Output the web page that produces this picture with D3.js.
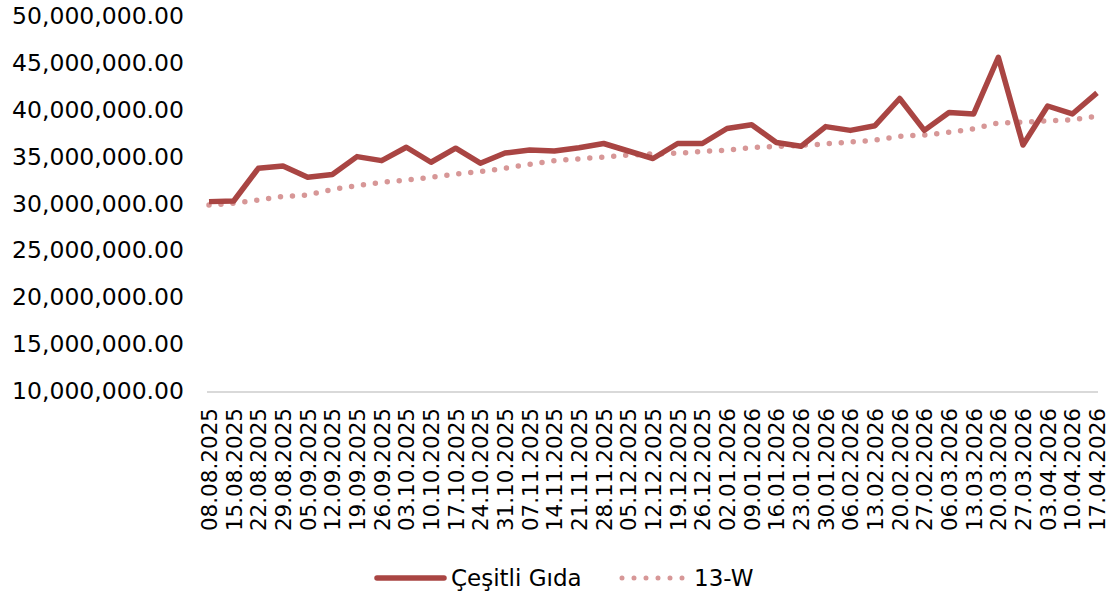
<!DOCTYPE html>
<html>
<head>
<meta charset="utf-8">
<script src="https://cdn.jsdelivr.net/npm/d3@7"></script>
<style>
  body { margin: 0; background: #fff; }
  text { font-family: "DejaVu Sans", sans-serif; fill: #000; }
</style>
</head>
<body>
<div id="chart"></div>
<script>
// Weekly categories
const dates = [
  "08.08.2025", "15.08.2025", "22.08.2025", "29.08.2025", "05.09.2025", "12.09.2025",
  "19.09.2025", "26.09.2025", "03.10.2025", "10.10.2025", "17.10.2025", "24.10.2025",
  "31.10.2025", "07.11.2025", "14.11.2025", "21.11.2025", "28.11.2025", "05.12.2025",
  "12.12.2025", "19.12.2025", "26.12.2025", "02.01.2026", "09.01.2026", "16.01.2026",
  "23.01.2026", "30.01.2026", "06.02.2026", "13.02.2026", "20.02.2026", "27.02.2026",
  "06.03.2026", "13.03.2026", "20.03.2026", "27.03.2026", "03.04.2026", "10.04.2026",
  "17.04.2026"
];

// Series values
const cesitliGida = [
  30.2e6, 30.27e6, 33.75e6, 34.0e6, 32.8e6, 33.1e6, 35.0e6, 34.57e6, 36.0e6, 34.4e6,
  35.9e6, 34.3e6, 35.38e6, 35.7e6, 35.6e6, 35.95e6, 36.4e6, 35.6e6, 34.8e6, 36.4e6,
  36.4e6, 38.0e6, 38.4e6, 36.5e6, 36.1e6, 38.2e6, 37.8e6, 38.3e6, 41.2e6, 37.8e6,
  39.7e6, 39.55e6, 45.6e6, 36.24e6, 40.4e6, 39.55e6, 41.8e6
];

const w13 = [
  29.84e6, 30.02e6, 30.37e6, 30.75e6, 30.9e6, 31.5e6, 31.9e6, 32.26e6, 32.5e6, 32.8e6,
  33.15e6, 33.4e6, 33.77e6, 34.18e6, 34.58e6, 34.76e6, 34.95e6, 35.16e6, 35.29e6, 35.37e6,
  35.54e6, 35.7e6, 35.97e6, 36.09e6, 36.2e6, 36.36e6, 36.56e6, 36.75e6, 37.18e6, 37.3e6,
  37.6e6, 37.97e6, 38.6e6, 38.67e6, 38.81e6, 38.93e6, 39.33e6
];

const yTicks = [10e6, 15e6, 20e6, 25e6, 30e6, 35e6, 40e6, 45e6, 50e6];

const seriesNames = ["Çeşitli Gıda", "13-W"];
const colors = { main: "#a94543", avg: "#d79797" };

const width = 1116, height = 601;

const svg = d3.select("#chart")
  .append("svg")
  .attr("width", width)
  .attr("height", height);

const x = d3.scalePoint()
  .domain(dates)
  .range([209, 1097]);

const y = d3.scaleLinear()
  .domain([10e6, 50e6])
  .range([391, 16]);

const fmt = d3.format(",.2f");

// Y axis labels (no axis line, no gridlines)
const yAxis = d3.axisLeft(y)
  .tickValues(yTicks)
  .tickFormat(fmt)
  .tickSize(0)
  .tickPadding(0);

svg.append("g")
  .attr("transform", "translate(184,0)")
  .call(yAxis)
  .call(g => g.select(".domain").remove())
  .selectAll("text")
  .attr("font-size", 23.5)
  .attr("font-family", "DejaVu Sans")
  .attr("fill", "#000");

// X axis
const xAxis = d3.axisBottom(x).tickSize(0);

const xg = svg.append("g")
  .attr("transform", "translate(0,392)")
  .call(xAxis);

xg.select(".domain")
  .attr("d", "M207,0H1098")
  .attr("stroke", "#d9d9d9")
  .attr("stroke-width", 2);

xg.selectAll("text")
  .attr("font-size", 21.5)
  .attr("font-family", "DejaVu Sans")
  .attr("fill", "#000")
  .attr("text-anchor", "end")
  .attr("dy", null)
  .attr("y", 0)
  .attr("dominant-baseline", "central")
  .attr("transform", "translate(0,16) rotate(-90)");

// Lines
const line = d3.line()
  .x((d, i) => x(dates[i]))
  .y(d => y(d));

svg.append("path")
  .datum(w13)
  .attr("d", line)
  .attr("fill", "none")
  .attr("stroke", colors.avg)
  .attr("stroke-width", 5.5)
  .attr("stroke-linecap", "round")
  .attr("stroke-dasharray", "0 12");

svg.append("path")
  .datum(cesitliGida)
  .attr("d", line)
  .attr("fill", "none")
  .attr("stroke", colors.main)
  .attr("stroke-width", 5.5)
  .attr("stroke-linejoin", "round");

// Legend
const legend = svg.append("g").attr("transform", "translate(0,578)");

legend.append("line")
  .attr("x1", 377).attr("x2", 444)
  .attr("stroke", colors.main)
  .attr("stroke-width", 5.5)
  .attr("stroke-linecap", "round");

legend.append("text")
  .attr("x", 451)
  .attr("dominant-baseline", "central")
  .attr("font-size", 23)
  .text(seriesNames[0]);

legend.append("line")
  .attr("x1", 622).attr("x2", 683)
  .attr("stroke", colors.avg)
  .attr("stroke-width", 5)
  .attr("stroke-linecap", "round")
  .attr("stroke-dasharray", "0 12");

legend.append("text")
  .attr("x", 694)
  .attr("dominant-baseline", "central")
  .attr("font-size", 23)
  .text(seriesNames[1]);
</script>
</body>
</html>
